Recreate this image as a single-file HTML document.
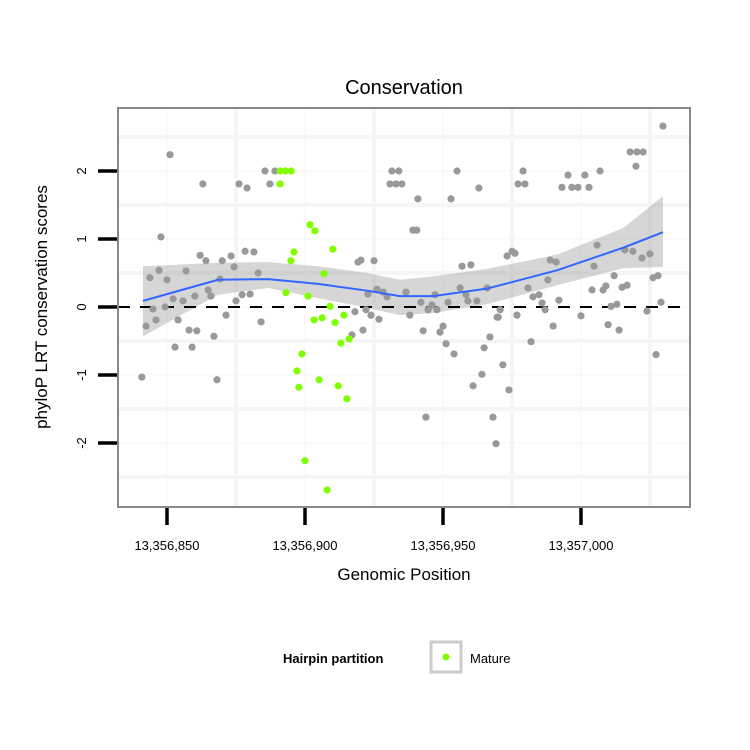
<!DOCTYPE html>
<html><head><meta charset="utf-8"><style>
html,body{margin:0;padding:0;background:#fff;}
svg{display:block;font-family:"Liberation Sans",sans-serif;}
</style></head><body>
<svg id="chart" width="750" height="750" viewBox="0 0 750 750" xmlns="http://www.w3.org/2000/svg">
<rect width="750" height="750" fill="#fff"/>
<text x="404" y="94" font-size="20" text-anchor="middle">Conservation</text>
<g id="grid"></g>
<g id="band"></g>
<line x1="118" x2="690" y1="307" y2="307" stroke="#000" stroke-width="2" stroke-dasharray="12,10"/>
<g id="points"></g>
<g id="smooth"></g>
<rect x="118" y="108" width="572" height="399" fill="none" stroke="#888" stroke-width="2"/>
<g id="axes"></g>
<text x="404" y="580" font-size="17" text-anchor="middle">Genomic Position</text>
<text transform="translate(47,307) rotate(-90)" font-size="17" text-anchor="middle">phyloP LRT conservation scores</text>
<g>
<text x="283" y="663" font-size="13" font-weight="bold">Hairpin partition</text>
<rect x="431" y="642" width="30" height="30" fill="#fff" stroke="#ccc" stroke-width="3"/>
<circle cx="446" cy="657" r="3.5" fill="#80ff00"/>
<text x="470" y="663" font-size="13">Mature</text>
</g>
</svg>
<script>
// positions are offsets from 13,356,800
const BASE = 13356800;
const xTicks = [50, 100, 150, 200];
const xTickLabels = ["13,356,850","13,356,900","13,356,950","13,357,000"];
const yTicks = [-2, -1, 0, 1, 2];
const yTickLabels = ["-2","-1","0","1","2"];
const grayX = [51.1,63,76.1,79,85.5,89.1,87.3,47.8,62,64.1,70,73.2,74.3,78.3,81.5,83,47.1,43.8,50,56.9,69.2,64.9,65.9,60.1,52.2,55.8,75,77.2,80.1,44.9,49.3,46,54,42.4,71.4,84.1,58,60.8,67,52.9,59.1,40.9,68.1,
131.5,134,130.8,133,135.1,155.1,163,140.9,152.9,139.1,140.5,119.2,120.3,125,156.9,160.1,126.1,122.8,128.3,129.7,136.6,142,147.1,151.8,156.2,158.3,159,162.3,166,118.1,122.1,123.9,126.8,138,144.6,146,147.8,169.6,121,117,142.8,148.9,150,151.1,154,167,164.9,164.1,160.9,143.8,168.1,169.2,
229.7,217.8,220.3,222.5,219.9,179,177.2,179.7,195.3,201.4,193.1,196.7,198.9,202.9,206.9,205.8,215.9,218.8,222.1,225,173.2,175,176.1,188.8,191,204.7,188,212,226.1,227.9,180.8,204,208,209,214.9,216.7,182.6,184.8,185.9,187,192,210.9,213,223.9,229,170.7,170,176.8,200,189.9,209.8,213.8,181.9,227.2,171.7,173.9];
const grayY = [2.24,1.81,1.81,1.75,2.0,2.0,1.81,1.03,0.76,0.68,0.68,0.75,0.59,0.82,0.81,0.5,0.54,0.43,0.4,0.53,0.41,0.25,0.16,0.16,0.12,0.09,0.09,0.18,0.19,-0.03,0,-0.19,-0.19,-0.28,-0.12,-0.22,-0.34,-0.35,-0.43,-0.59,-0.59,-1.03,-1.07,
2.0,2.0,1.81,1.81,1.81,2.0,1.75,1.59,1.59,1.13,1.13,0.66,0.69,0.68,0.6,0.62,0.26,0.19,0.22,0.15,0.22,0.07,0.18,0.07,0.28,0.18,0.09,0.09,0.28,-0.07,-0.04,-0.12,-0.18,-0.12,-0.04,0.03,-0.04,-0.15,-0.34,-0.41,-0.35,-0.37,-0.28,-0.54,-0.69,-0.44,-0.6,-0.99,-1.16,-1.62,-1.62,-2.01,
2.66,2.28,2.28,2.28,2.07,2.0,1.81,1.81,1.94,1.94,1.76,1.76,1.76,1.76,2.0,0.91,0.84,0.82,0.72,0.78,0.75,0.82,0.79,0.69,0.66,0.6,0.4,0.46,0.43,0.46,0.28,0.25,0.25,0.31,0.29,0.32,0.15,0.18,0.06,-0.04,0.1,0.01,0.04,-0.06,0.07,-0.04,-0.15,-0.12,-0.13,-0.28,-0.26,-0.34,-0.51,-0.7,-0.85,-1.22];
const matureX = [91,93,95,91,101.8,103.6,96,94.9,93.1,101.1,103.3,98.9,97.1,97.8,100,110.1,106.9,109.1,106.2,110.9,114.1,113,116,105.1,112,115.2,108];
const matureY = [2.0,2.0,2.0,1.81,1.21,1.12,0.81,0.68,0.21,0.16,-0.19,-0.69,-0.94,-1.18,-2.26,0.85,0.49,0.01,-0.16,-0.23,-0.12,-0.53,-0.47,-1.07,-1.16,-1.35,-2.69];
const smoothX = [41.3,68.5,86.6,104.7,122.5,134.4,146.4,165.9,191.3,215.2,229.7];
const smoothY = [0.09,0.4,0.41,0.34,0.24,0.16,0.16,0.27,0.54,0.87,1.1];
const bandUpper = [0.6,0.65,0.66,0.6,0.5,0.4,0.45,0.56,0.77,1.16,1.63];
const bandLower = [-0.43,0.18,0.28,0.13,-0.01,-0.12,-0.09,0.04,0.32,0.57,0.59];

const NS = "http://www.w3.org/2000/svg";
const xs = v => 167 + (v - 50) * 2.76;
const ys = v => 307 - v * 68;
function mk(tag, attrs, parent){const e=document.createElementNS(NS,tag);for(const k in attrs)e.setAttribute(k,attrs[k]);parent.appendChild(e);return e;}
const grid=document.getElementById('grid'), axes=document.getElementById('axes');
const pts=document.getElementById('points'), band=document.getElementById('band'), sm=document.getElementById('smooth');
[-2.5,-2,-1.5,-1,-0.5,0,0.5,1,1.5,2,2.5].forEach(v=>{
  const l=mk('line',{x1:119,x2:689,y1:ys(v),y2:ys(v),stroke:'#f5f5f5','stroke-width':Number.isInteger(v)?1:4},grid);
  
  
});
[50,75,100,125,150,175,200,225].forEach(v=>{
  const l=mk('line',{y1:109,y2:506,x1:xs(v),x2:xs(v),stroke:'#f5f5f5','stroke-width':v%50===0?1:4},grid);
  
  
});
xTicks.forEach((v,i)=>{
  const t=mk('line',{x1:xs(v),x2:xs(v),y1:508,y2:525,stroke:'#000','stroke-width':3.5},axes);
  
  
  const tx=mk('text',{x:xs(v),y:550,'font-size':13,'text-anchor':'middle'},axes);
  tx.textContent=xTickLabels[i];
  
  
});
yTicks.forEach((v,i)=>{
  const t=mk('line',{x1:98,x2:117,y1:ys(v),y2:ys(v),stroke:'#000','stroke-width':3.5},axes);
  
  
  const tx=mk('text',{transform:`translate(86,${ys(v)}) rotate(-90)`,'font-size':13,'text-anchor':'middle'},axes);
  tx.textContent=yTickLabels[i];
  
  
});
let d='';
smoothX.forEach((v,i)=>{d+=(i?'L':'M')+xs(v)+','+ys(bandUpper[i]);});
for(let i=smoothX.length-1;i>=0;i--)d+='L'+xs(smoothX[i])+','+ys(bandLower[i]);
const bp=mk('path',{d:d+'Z',fill:'#999','fill-opacity':0.4},band);


grayX.forEach((v,i)=>{
  const c=mk('circle',{cx:xs(v),cy:ys(grayY[i]),r:3.6,fill:'#999'},pts);
  
  
});
matureX.forEach((v,i)=>{
  const c=mk('circle',{cx:xs(v),cy:ys(matureY[i]),r:3.6,fill:'#80ff00'},pts);
  
  
});
let sd='';
smoothX.forEach((v,i)=>{sd+=(i?'L':'M')+xs(v)+','+ys(smoothY[i]);});
const sp=mk('path',{d:sd,fill:'none',stroke:'#3366ff','stroke-width':2},sm);


</script>
</body></html>
